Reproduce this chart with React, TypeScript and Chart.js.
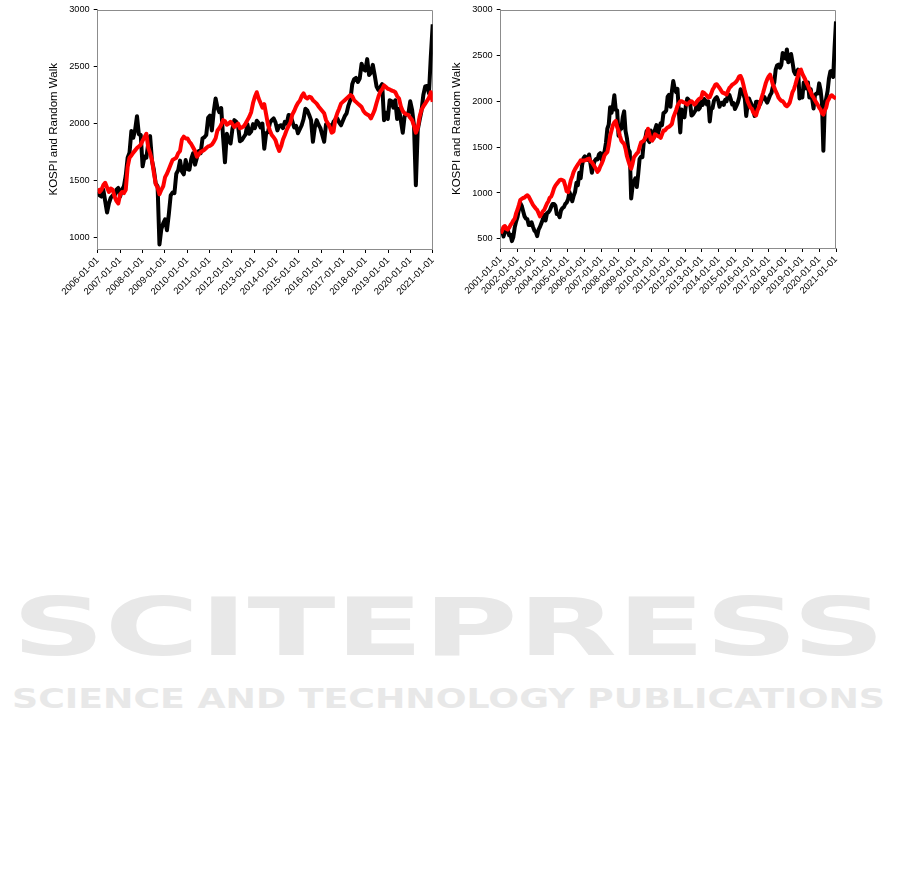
import React, { useEffect, useRef } from 'react';
import { Chart, registerables } from 'chart.js';

Chart.register(...registerables);

// KOSPI, monthly, Jan 2001 .. Dec 2020
const kospi: number[] = [
  610, 585, 525, 575, 600, 595, 540, 545, 475, 520, 625, 690,
  740, 820, 890, 860, 800, 745, 720, 715, 650, 650, 680, 630,
  590, 575, 530, 600, 630, 670, 710, 760, 700, 780, 790, 810,
  850, 880, 880, 860, 770, 770, 735, 810, 835, 845, 880, 895,
  930, 1010, 965, 910, 970, 1010, 1110, 1085, 1220, 1160, 1300, 1380,
  1400, 1370, 1360, 1420, 1320, 1220, 1300, 1350, 1370, 1365, 1420, 1435,
  1360, 1420, 1450, 1545, 1700, 1745, 1935, 1875, 1945, 2065, 1905, 1900,
  1625, 1710, 1700, 1825, 1890, 1675, 1595, 1475, 1450, 940, 1075, 1125,
  1160, 1065, 1205, 1370, 1395, 1390, 1560, 1590, 1675, 1580, 1555, 1680,
  1600, 1595, 1690, 1740, 1640, 1700, 1760, 1740, 1870, 1880, 1900, 2050,
  2070, 1940, 2105, 2220, 2140, 2100, 2135, 1880, 1660, 1910, 1850, 1825,
  1955, 2030, 2015, 1980, 1845, 1855, 1880, 1905, 1995, 1910, 1930, 1995,
  1960, 2025, 2005, 1965, 2000, 1780, 1915, 1925, 2005, 2030, 2045, 2010,
  1940, 1980, 1985, 1960, 2015, 2000, 2075, 2070, 2020, 1965, 1980, 1915,
  1950, 1985, 2040, 2130, 2115, 2075, 2030, 1840, 1965, 2030, 1990, 1960,
  1900, 1840, 1995, 1995, 1985, 1970, 2015, 2035, 2045, 2010, 1985, 2025,
  2065, 2090, 2160, 2205, 2345, 2390, 2400, 2365, 2395, 2525, 2475, 2465,
  2565, 2425, 2445, 2515, 2425, 2325, 2295, 2320, 2345, 2030, 2095, 2040,
  2205, 2195, 2140, 2205, 2040, 2130, 2025, 1920, 2065, 2085, 2085, 2195,
  2120, 1985, 1460, 1945, 2030, 2110, 2250, 2325, 2330, 2265, 2590, 2870,
];

// Random walk shown in the left panel, monthly, Jan 2006 .. Dec 2020
const randomWalkLeft: number[] = [
  1430, 1400, 1420, 1460, 1480, 1440, 1400, 1430, 1420, 1360, 1320, 1300,
  1380, 1400, 1390, 1420, 1620, 1700, 1720, 1745, 1765, 1785, 1800, 1815,
  1850, 1880, 1910, 1790, 1740, 1680, 1570, 1470, 1440, 1380, 1420, 1450,
  1530, 1560, 1600, 1640, 1680, 1690, 1700, 1740, 1760, 1860, 1885, 1870,
  1870, 1840, 1820, 1790, 1760, 1710, 1730, 1750, 1760, 1770, 1785, 1800,
  1805, 1815, 1840, 1870, 1940, 1960, 1990, 2030, 2020, 1990, 2000, 2015,
  1995, 1970, 1985, 2000, 1960, 1965, 1975, 2000, 2030, 2060, 2100, 2180,
  2235, 2275, 2220, 2180, 2140, 2170, 2080, 1990, 1940, 1900, 1880, 1855,
  1800, 1760, 1800, 1860, 1900, 1945, 1980, 2010, 2080, 2110, 2150, 2180,
  2200, 2240, 2265, 2230, 2220, 2235, 2230, 2205, 2190, 2175, 2150, 2130,
  2110, 2090, 2030, 2000, 1970, 1920, 1930, 2040, 2090, 2130, 2175, 2190,
  2205, 2220, 2235, 2250, 2240, 2205, 2190, 2175, 2160, 2145, 2110, 2090,
  2080, 2070, 2045, 2080, 2120, 2180, 2235, 2280, 2300, 2335, 2320, 2305,
  2300, 2290, 2285, 2275, 2240, 2220, 2150, 2110, 2090, 2080, 2075, 2050,
  2030, 1980, 1920, 1960, 2060, 2120, 2150, 2175, 2200, 2225, 2275, 2190,
];

// Random walk shown in the right panel, monthly, Jan 2001 .. Dec 2020
const randomWalkRight: number[] = [
  560, 590, 630, 640, 610, 600, 620, 650, 670, 700, 720, 780,
  820, 870, 925, 935, 945, 950, 965, 975, 960, 930, 900, 870,
  850, 830, 815, 780, 745, 770, 800, 815, 850, 885, 910, 950,
  960, 1000, 1050, 1080, 1100, 1120, 1140, 1145, 1140, 1130, 1080, 1020,
  1010, 1070, 1140, 1180, 1230, 1260, 1285, 1310, 1330, 1355, 1350, 1355,
  1355, 1360, 1370, 1375, 1345, 1335, 1310, 1285, 1260, 1230, 1250, 1290,
  1320, 1360, 1410, 1430, 1445, 1520, 1620, 1680, 1740, 1770, 1785, 1720,
  1680, 1620, 1570, 1550, 1535, 1480, 1400, 1350, 1300, 1265, 1320, 1390,
  1410, 1430, 1445, 1500, 1550, 1560, 1570, 1600, 1625, 1700, 1640, 1580,
  1570, 1600, 1640, 1630, 1620, 1615, 1600, 1640, 1680, 1680, 1700, 1715,
  1720, 1735, 1750, 1820, 1860, 1900, 1950, 1975, 2000, 2000, 1990, 1985,
  1975, 1965, 1980, 1995, 2000, 1985, 1965, 1975, 2000, 2020, 2030, 2040,
  2100, 2090, 2075, 2060, 2040, 2045, 2080, 2125, 2150, 2180, 2185, 2165,
  2145, 2120, 2095, 2090, 2080, 2075, 2110, 2145, 2160, 2180, 2190, 2200,
  2215, 2240, 2270, 2275, 2240, 2180, 2110, 2060, 2000, 1965, 1930, 1920,
  1880, 1860, 1845, 1900, 1930, 1990, 2040, 2090, 2145, 2200, 2240, 2270,
  2290, 2240, 2180, 2150, 2110, 2080, 2040, 2020, 2005, 2000, 1980, 1955,
  1945, 1960, 1985, 2040, 2100, 2130, 2180, 2235, 2280, 2340, 2345, 2300,
  2270, 2240, 2200, 2170, 2130, 2100, 2060, 2040, 2010, 1985, 1960, 1930,
  1910, 1870, 1855, 1900, 1930, 2000, 2025, 2055, 2065, 2050, 2040, 2030,
];

const leftXTickLabels: string[] = [
  '2006-01-01', '2007-01-01', '2008-01-01', '2009-01-01', '2010-01-01', '2011-01-01',
  '2012-01-01', '2013-01-01', '2014-01-01', '2015-01-01', '2016-01-01', '2017-01-01',
  '2018-01-01', '2019-01-01', '2020-01-01', '2021-01-01',
];
const rightXTickLabels: string[] = [
  '2001-01-01', '2002-01-01', '2003-01-01', '2004-01-01', '2005-01-01', '2006-01-01',
  '2007-01-01', '2008-01-01', '2009-01-01', '2010-01-01', '2011-01-01', '2012-01-01',
  '2013-01-01', '2014-01-01', '2015-01-01', '2016-01-01', '2017-01-01', '2018-01-01',
  '2019-01-01', '2020-01-01', '2021-01-01',
];
const leftYTicks: number[] = [1000, 1500, 2000, 2500, 3000];
const rightYTicks: number[] = [500, 1000, 1500, 2000, 2500, 3000];
const yAxisTitle = 'KOSPI and Random Walk';
const watermarkTitle = 'SCITEPRESS';
const watermarkSubtitle = 'SCIENCE AND TECHNOLOGY PUBLICATIONS';

const FONT = "'Liberation Sans', Arial, sans-serif";
const FRAME = '#8c8c8c';

type PanelProps = {
  black: number[];
  red: number[];
  startYear: number;
  endYear: number;
  yMin: number;
  yMax: number;
  yTicks: number[];
  xLabels: string[];
  width: number;
  height: number;
  padLeft: number;
  padRight: number;
  padTop: number;
  yWidth: number;
  xHeight: number;
};

const framePlugin = {
  id: 'frame',
  beforeDatasetsDraw(chart: any) {
    const { ctx, chartArea: a } = chart;
    ctx.save();
    ctx.strokeStyle = FRAME;
    ctx.lineWidth = 1;
    ctx.beginPath();
    const t = Math.round(a.top) + 0.5;
    const r = Math.round(a.right) - 0.5;
    ctx.moveTo(a.left, t);
    ctx.lineTo(r, t);
    ctx.lineTo(r, a.bottom);
    ctx.stroke();
    ctx.restore();
  },
};

function toPoints(values: number[], startYear: number, endYear: number) {
  const span = endYear - startYear;
  return values.map((v, i) => ({ x: startYear + (i * span) / (values.length - 1), y: v }));
}

function Panel(p: PanelProps) {
  const ref = useRef<HTMLCanvasElement>(null);
  useEffect(() => {
    const chart = new Chart(ref.current as HTMLCanvasElement, {
      type: 'line',
      data: {
        datasets: [
          {
            label: 'Random Walk',
            data: toPoints(p.red, p.startYear, p.endYear),
            borderColor: '#ff0000',
            borderWidth: 4,
            pointRadius: 0,
            tension: 0,
            borderJoinStyle: 'round',
            fill: false,
          },
          {
            label: 'KOSPI',
            data: toPoints(p.black, p.startYear, p.endYear),
            borderColor: '#000000',
            borderWidth: 4,
            pointRadius: 0,
            tension: 0,
            borderJoinStyle: 'round',
            fill: false,
          },
        ],
      },
      options: {
        responsive: false,
        animation: false,
        events: [],
        layout: { padding: { left: p.padLeft, right: p.padRight, top: p.padTop, bottom: 0 } },
        plugins: { legend: { display: false }, tooltip: { enabled: false } },
        scales: {
          x: {
            type: 'linear',
            min: p.startYear,
            max: p.endYear,
            afterBuildTicks: (s: any) => {
              s.ticks = p.xLabels.map((_, i) => ({ value: p.startYear + i }));
            },
            afterFit: (s: any) => {
              s.height = p.xHeight;
            },
            ticks: {
              autoSkip: false,
              minRotation: 45,
              maxRotation: 45,
              padding: 2,
              color: '#000',
              font: { family: FONT, size: 9.5 },
              callback: (v: any) => p.xLabels[Math.round(Number(v) - p.startYear)],
            },
            grid: { display: true, drawOnChartArea: false, drawTicks: true, tickLength: 4, tickColor: '#000' },
            border: { display: true, color: FRAME, width: 1 },
          },
          y: {
            type: 'linear',
            min: p.yMin,
            max: p.yMax,
            afterBuildTicks: (s: any) => {
              s.ticks = p.yTicks.map((v) => ({ value: v }));
            },
            afterFit: (s: any) => {
              s.width = p.yWidth;
            },
            ticks: {
              padding: 4,
              color: '#000',
              font: { family: FONT, size: 9.2 },
              callback: (v: any) => String(v),
            },
            grid: { display: true, drawOnChartArea: false, drawTicks: true, tickLength: 4, tickColor: '#000' },
            border: { display: true, color: FRAME, width: 1 },
            title: {
              display: true,
              text: yAxisTitle,
              color: '#000',
              padding: 0,
              font: { family: FONT, size: 11.5 },
            },
          },
        },
      },
      plugins: [framePlugin],
    } as any);
    return () => chart.destroy();
  }, []);
  return <canvas ref={ref} width={p.width} height={p.height} style={{ width: p.width, height: p.height, display: 'block' }} />;
}

export default function App() {
  return (
    <div style={{ position: 'absolute', left: 0, top: 0, width: 901, height: 886, background: '#fff', overflow: 'hidden' }}>
      <svg width={901} height={886} style={{ position: 'absolute', left: 0, top: 0 }}>
        <text
          x={12}
          y={655}
          textLength={873}
          lengthAdjust="spacingAndGlyphs"
          fontFamily="'DejaVu Sans', sans-serif"
          fontWeight="bold"
          fontSize={80}
          fill="#e8e8e8"
        >
          {watermarkTitle}
        </text>
        <text
          x={12}
          y={708}
          textLength={873}
          lengthAdjust="spacingAndGlyphs"
          fontFamily="'DejaVu Sans', sans-serif"
          fontWeight="bold"
          fontSize={27}
          fill="#e8e8e8"
        >
          {watermarkSubtitle}
        </text>
      </svg>
      <div style={{ position: 'absolute', left: 0, top: 0 }}>
        <Panel
          black={kospi.slice(60)}
          red={randomWalkLeft}
          startYear={2006}
          endYear={2021}
          yMin={900}
          yMax={3000}
          yTicks={leftYTicks}
          xLabels={leftXTickLabels}
          width={450}
          height={310}
          padLeft={46.6}
          padRight={17.3}
          padTop={9}
          yWidth={51.1}
          xHeight={61}
        />
      </div>
      <div style={{ position: 'absolute', left: 445, top: 0 }}>
        <Panel
          black={kospi}
          red={randomWalkRight}
          startYear={2001}
          endYear={2021}
          yMin={400}
          yMax={3000}
          yTicks={rightYTicks}
          xLabels={rightXTickLabels}
          width={456}
          height={310}
          padLeft={5.1}
          padRight={65}
          padTop={7.3}
          yWidth={50.6}
          xHeight={62}
        />
      </div>
    </div>
  );
}
